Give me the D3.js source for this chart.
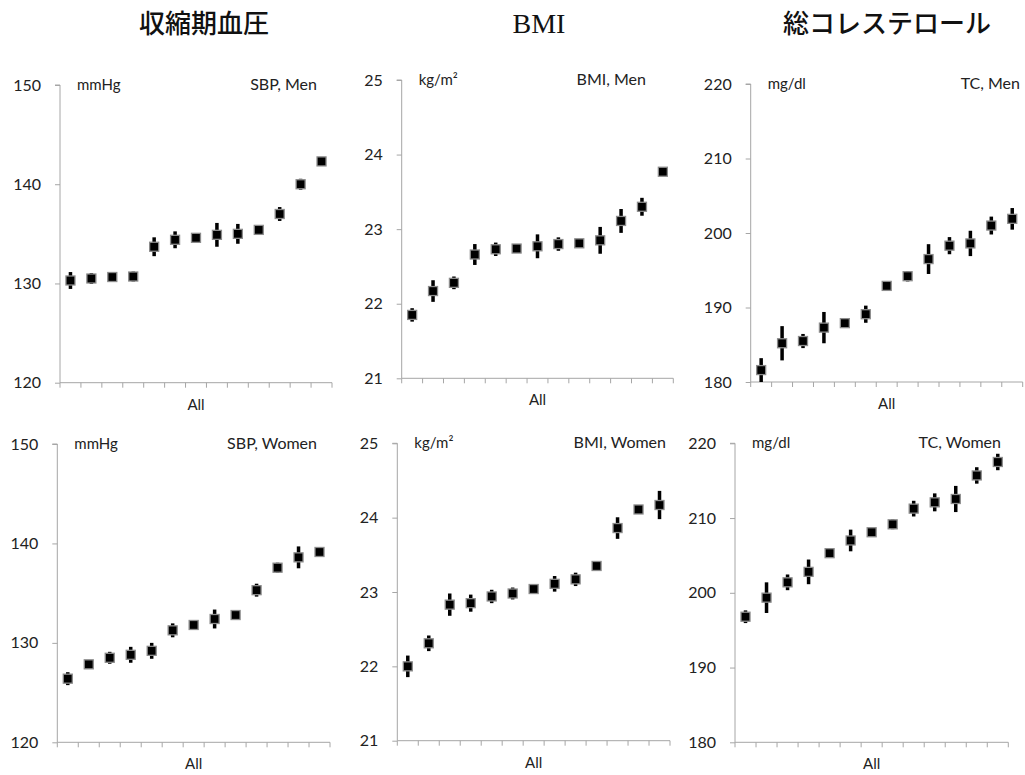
<!DOCTYPE html>
<html>
<head>
<meta charset="utf-8">
<script src="https://cdn.jsdelivr.net/npm/d3@7"></script>
<style>
  html, body { margin: 0; padding: 0; background: #fff; }
  svg { display: block; }
</style>
</head>
<body>
<svg id="chart" width="1025" height="775"></svg>
<script>
// 13 groups, ordered from lowest to highest mean, shown for men and women
const groups = d3.range(1, 14);

// Systolic blood pressure (mmHg)
const sbpTicks = [120, 130, 140, 150];
const sbpMen      = [130.3, 130.5, 130.65, 130.7, 133.7, 134.4, 134.6, 134.9, 135.0, 135.4, 137.0, 140.0, 142.3];
const sbpMenErr   = [0.85, 0.55, 0.3, 0.5, 0.95, 0.85, 0.3, 1.2, 1.0, 0.3, 0.7, 0.55, 0.45];
const sbpWomen    = [126.4, 127.84, 128.5, 128.8, 129.2, 131.26, 131.8, 132.4, 132.8, 135.3, 137.56, 138.6, 139.14];
const sbpWomenErr = [0.65, 0.3, 0.6, 0.8, 0.8, 0.7, 0.3, 0.95, 0.3, 0.65, 0.5, 1.1, 0.35];

// Body mass index (kg/m2)
const bmiTicks = [21, 22, 23, 24, 25];
const bmiMen      = [21.85, 22.17, 22.28, 22.66, 22.73, 22.74, 22.77, 22.80, 22.81, 22.85, 23.11, 23.30, 23.77];
const bmiMenErr   = [0.09, 0.145, 0.085, 0.14, 0.09, 0.04, 0.16, 0.09, 0.04, 0.18, 0.16, 0.12, 0.04];
const bmiWomen    = [22.0, 22.31, 22.83, 22.85, 22.94, 22.98, 23.04, 23.11, 23.17, 23.35, 23.86, 24.11, 24.17];
const bmiWomenErr = [0.145, 0.105, 0.15, 0.115, 0.09, 0.08, 0.04, 0.105, 0.09, 0.04, 0.145, 0.04, 0.19];

// Total cholesterol (mg/dl)
const tcTicks = [180, 190, 200, 210, 220];
const tcMen       = [181.6, 185.2, 185.5, 187.3, 187.9, 189.1, 192.9, 194.2, 196.5, 198.3, 198.6, 201.0, 201.9];
const tcMenErr    = [1.6, 2.3, 0.95, 2.1, 0.4, 1.15, 0.3, 0.7, 2.0, 1.15, 1.7, 1.2, 1.45];
const tcWomen     = [196.8, 199.35, 201.4, 202.8, 205.3, 207.0, 208.1, 209.16, 211.26, 212.1, 212.55, 215.7, 217.5];
const tcWomenErr  = [0.85, 2.05, 1.05, 1.65, 0.3, 1.45, 0.3, 0.65, 1.05, 1.2, 1.75, 1.1, 1.1];

const categoryLabel = "All";
const columnTitles = ["収縮期血圧", "BMI", "総コレステロール"];

// Panel frames: left/right edge of the x axis, top/bottom of the y axis;
// nameEnd is where the panel name ends on the right
const panels = [
  { values: sbpMen,   errs: sbpMenErr,   ticks: sbpTicks, unit: "mmHg",  name: "SBP, Men",   frame: [60, 332, 85, 382.7],        nameEnd: 317 },
  { values: bmiMen,   errs: bmiMenErr,   ticks: bmiTicks, unit: "kg/m²", name: "BMI, Men",   frame: [401.7, 673.3, 80, 378.3],   nameEnd: 646 },
  { values: tcMen,    errs: tcMenErr,    ticks: tcTicks,  unit: "mg/dl", name: "TC, Men",    frame: [750.7, 1022.7, 84, 382],    nameEnd: 1020 },
  { values: sbpWomen, errs: sbpWomenErr, ticks: sbpTicks, unit: "mmHg",  name: "SBP, Women", frame: [57.3, 330, 444, 742.3],     nameEnd: 317 },
  { values: bmiWomen, errs: bmiWomenErr, ticks: bmiTicks, unit: "kg/m²", name: "BMI, Women", frame: [397.3, 670, 443.3, 740.7],  nameEnd: 666 },
  { values: tcWomen,  errs: tcWomenErr,  ticks: tcTicks,  unit: "mg/dl", name: "TC, Women",  frame: [735, 1008.3, 443.3, 742.3], nameEnd: 1001 }
];

const svg = d3.select("#chart");
const labelFont = "Lato, 'Open Sans', 'Noto Sans', sans-serif";
const axisColor = "#a6a6a6";

// Column headings
const titleSpecs = [
  { x: 204, y: 33, font: "'Noto Sans CJK JP', sans-serif", size: 26, weight: 500 },
  { x: 539, y: 33, font: "'Liberation Serif', 'DejaVu Serif', serif", size: 28, weight: 400 },
  { x: 887, y: 33, font: "'Noto Sans CJK JP', sans-serif", size: 26, weight: 500 }
];
titleSpecs.forEach((t, i) => {
  svg.append("text")
    .attr("x", t.x).attr("y", t.y)
    .attr("text-anchor", "middle")
    .style("font-family", t.font)
    .style("font-size", t.size + "px")
    .style("font-weight", t.weight)
    .style("fill", "#111")
    .text(columnTitles[i]);
});

panels.forEach(p => {
  const [x0, x1, yTop, yBot] = p.frame;
  const g = svg.append("g");

  const x = d3.scaleBand().domain(groups).range([x0, x1]);
  const y = d3.scaleLinear()
    .domain([d3.min(p.ticks), d3.max(p.ticks)])
    .range([yBot, yTop]);

  // y axis
  const yAxis = g.append("g")
    .attr("transform", `translate(${x0},0)`)
    .call(d3.axisLeft(y).tickValues(p.ticks).tickSize(5).tickPadding(14).tickFormat(d3.format("d")));
  yAxis.select(".domain").attr("stroke", axisColor).attr("d", `M-5,${yTop}H0V${yBot}`);
  yAxis.selectAll(".tick line").attr("stroke", axisColor);
  yAxis.selectAll(".tick text")
    .style("font-family", labelFont).style("font-size", "16px").style("fill", "#222");

  // x axis: tick marks at band boundaries
  const bounds = groups.map(d => x(d)).concat([x1]);
  g.append("line")
    .attr("x1", x0).attr("x2", x1).attr("y1", yBot).attr("y2", yBot)
    .attr("stroke", axisColor);
  g.selectAll(".xtick").data(bounds).join("line")
    .attr("x1", d => d).attr("x2", d => d)
    .attr("y1", yBot).attr("y2", yBot + 5)
    .attr("stroke", axisColor);

  g.append("text")
    .attr("x", (x0 + x1) / 2).attr("y", yBot + 27)
    .attr("text-anchor", "middle")
    .style("font-family", labelFont).style("font-size", "15px").style("fill", "#222")
    .text(categoryLabel);

  // unit and panel name
  g.append("text")
    .attr("x", x0 + 17).attr("y", yTop + 5)
    .style("font-family", labelFont).style("font-size", "15px").style("fill", "#222")
    .text(p.unit);
  g.append("text")
    .attr("x", p.nameEnd).attr("y", yTop + 5)
    .attr("text-anchor", "end")
    .style("font-family", labelFont).style("font-size", "16px").style("fill", "#222")
    .text(p.name);

  const cx = i => x(groups[i]) + x.bandwidth() / 2;

  // error bars (confidence intervals)
  g.selectAll(".err").data(p.values).join("rect")
    .attr("x", (d, i) => cx(i) - 1.75)
    .attr("width", 3.5)
    .attr("y", (d, i) => y(Math.min(d + p.errs[i], d3.max(p.ticks))))
    .attr("height", (d, i) => y(Math.max(d - p.errs[i], d3.min(p.ticks))) - y(Math.min(d + p.errs[i], d3.max(p.ticks))))
    .attr("fill", "#000");

  // mean markers
  g.selectAll(".pt").data(p.values).join("rect")
    .attr("x", (d, i) => cx(i) - 4.5)
    .attr("y", d => y(d) - 4.5)
    .attr("width", 9).attr("height", 9)
    .attr("fill", "#000")
    .attr("stroke", "#8c8c8c")
    .attr("stroke-width", 1.3);
});
</script>
</body>
</html>
